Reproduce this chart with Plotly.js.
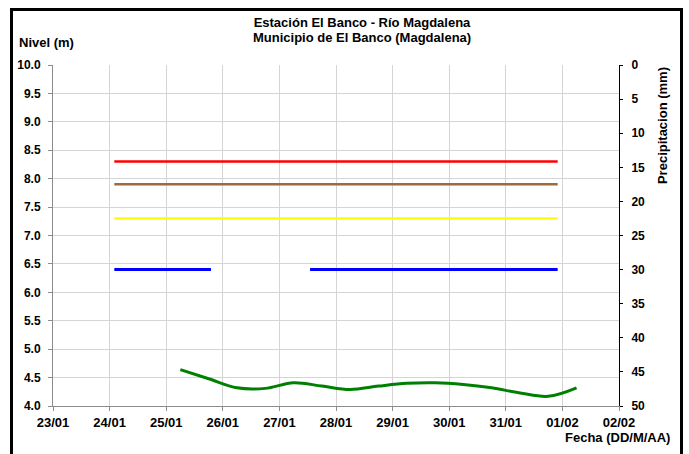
<!DOCTYPE html>
<html>
<head>
<meta charset="utf-8">
<script src="https://cdn.plot.ly/plotly-3.0.1.min.js"></script>
<style>
  html, body { margin: 0; padding: 0; background: #ffffff; overflow: hidden; }
  #frame { position: absolute; left: 10px; top: 8px; width: 667px; height: 470px; border: 3px solid #000; pointer-events: none; z-index: 5; }
  #chart { position: absolute; left: 0; top: 0; width: 689px; height: 454px; }
</style>
</head>
<body>
<div id="chart"></div>
<div id="frame"></div>
<script>
// Threshold levels (m)
const thresholdDates = ['2023-01-24 02:00', '2023-01-31 22:00'];
const redLevel = [8.3, 8.3];
const brownLevel = [7.9, 7.9];
const yellowLevel = [7.3, 7.3];
const blueDates = ['2023-01-24 02:00', '2023-01-25 19:00', '2023-01-26 16:00', '2023-01-27 13:00', '2023-01-31 22:00'];
const blueLevel = [6.4, 6.4, null, 6.4, 6.4];

// Observed level (m)
const levelDates = [
  '2023-01-25 06:00', '2023-01-25 18:00',
  '2023-01-26 06:00', '2023-01-26 18:00',
  '2023-01-27 06:00', '2023-01-27 18:00',
  '2023-01-28 06:00', '2023-01-28 18:00',
  '2023-01-29 06:00', '2023-01-29 18:00',
  '2023-01-30 06:00', '2023-01-30 18:00',
  '2023-01-31 06:00', '2023-01-31 18:00',
  '2023-02-01 06:00'
];
const levelValues = [4.64, 4.48, 4.32, 4.31, 4.41, 4.35, 4.29, 4.35, 4.40, 4.41, 4.38, 4.32, 4.23, 4.17, 4.32];

// Precipitation (mm): no bars shown in the period
const precipDates = [];
const precipValues = [];

const xRange = ['2023-01-23', '2023-02-02'];
const leftTicks = [4.0, 4.5, 5.0, 5.5, 6.0, 6.5, 7.0, 7.5, 8.0, 8.5, 9.0, 9.5, 10.0];
const leftTickText = ['4.0','4.5','5.0','5.5','6.0','6.5','7.0','7.5','8.0','8.5','9.0','9.5','10.0'];
const rightTicks = [0, 5, 10, 15, 20, 25, 30, 35, 40, 45, 50];

const FONT = 'Liberation Sans, Arial, sans-serif';
const bold = (size, color) => ({ family: FONT, size: size, color: color || '#000', weight: 700 });

const traces = [
  { x: precipDates, y: precipValues, type: 'bar', yaxis: 'y2', marker: { color: '#00b0f0' }, hoverinfo: 'skip' },
  { x: thresholdDates, y: redLevel, mode: 'lines', line: { color: '#ff0000', width: 2.5 }, hoverinfo: 'skip' },
  { x: thresholdDates, y: brownLevel, mode: 'lines', line: { color: '#9c6b3e', width: 2.5 }, hoverinfo: 'skip' },
  { x: thresholdDates, y: yellowLevel, mode: 'lines', line: { color: '#ffff00', width: 2.5 }, hoverinfo: 'skip' },
  { x: blueDates, y: blueLevel, mode: 'lines', connectgaps: false, line: { color: '#0000ff', width: 3 }, hoverinfo: 'skip' },
  { x: levelDates, y: levelValues, mode: 'lines', line: { color: '#008000', width: 3, shape: 'spline', smoothing: 1 }, hoverinfo: 'skip' }
];

const layout = {
  width: 689, height: 454,
  margin: { l: 53, r: 70, t: 65, b: 48 },
  paper_bgcolor: '#ffffff', plot_bgcolor: '#ffffff',
  showlegend: false,
  title: {
    text: 'Estación El Banco - Río Magdalena',
    font: bold(13),
    xref: 'container', x: 0.5254, xanchor: 'center',
    yref: 'container', y: 0.9515, yanchor: 'middle'
  },
  xaxis: {
    type: 'date', range: xRange,
    dtick: 86400000, tick0: '2023-01-23', tickformat: '%d/%m',
    showgrid: true, gridcolor: '#d4d4d4', gridwidth: 1,
    showline: true, linecolor: '#8c8c8c', linewidth: 1,
    ticks: 'outside', ticklen: 4, tickcolor: '#8c8c8c',
    tickfont: bold(13), zeroline: false, fixedrange: true
  },
  yaxis: {
    range: [4, 10], tickvals: leftTicks, ticktext: leftTickText,
    showgrid: true, gridcolor: '#d4d4d4', gridwidth: 1,
    showline: true, linecolor: '#8c8c8c', linewidth: 1,
    ticks: 'outside', ticklen: 4, tickcolor: '#8c8c8c',
    ticklabelstandoff: 5,
    tickfont: bold(12), zeroline: false, fixedrange: true
  },
  yaxis2: {
    overlaying: 'y', side: 'right', range: [50, 0], tickvals: rightTicks,
    showgrid: false, showline: true, linecolor: '#000', linewidth: 1,
    ticks: 'outside', ticklen: 3, tickcolor: '#000',
    ticklabelstandoff: 6,
    tickfont: bold(12), zeroline: false, fixedrange: true
  },
  annotations: [
    { text: 'Municipio de El Banco (Magdalena)', xref: 'paper', yref: 'paper', x: 0.546, y: 1.0792, xanchor: 'center', yanchor: 'middle', showarrow: false, font: bold(13) },
    { text: 'Nivel (m)', xref: 'paper', yref: 'paper', x: -0.0636, y: 1.0674, xanchor: 'left', yanchor: 'middle', showarrow: false, font: bold(13) },
    { text: 'Precipitacion (mm)', xref: 'paper', yref: 'paper', x: 1.076, y: 0.821, xanchor: 'center', yanchor: 'middle', textangle: -90, showarrow: false, font: bold(13) },
    { text: 'Fecha (DD/M/AA)', xref: 'paper', yref: 'paper', x: 1.0936, y: -0.0938, xanchor: 'right', yanchor: 'middle', showarrow: false, font: bold(13) }
  ]
};

Plotly.newPlot('chart', traces, layout, { displayModeBar: false, staticPlot: true });
</script>
</body>
</html>
